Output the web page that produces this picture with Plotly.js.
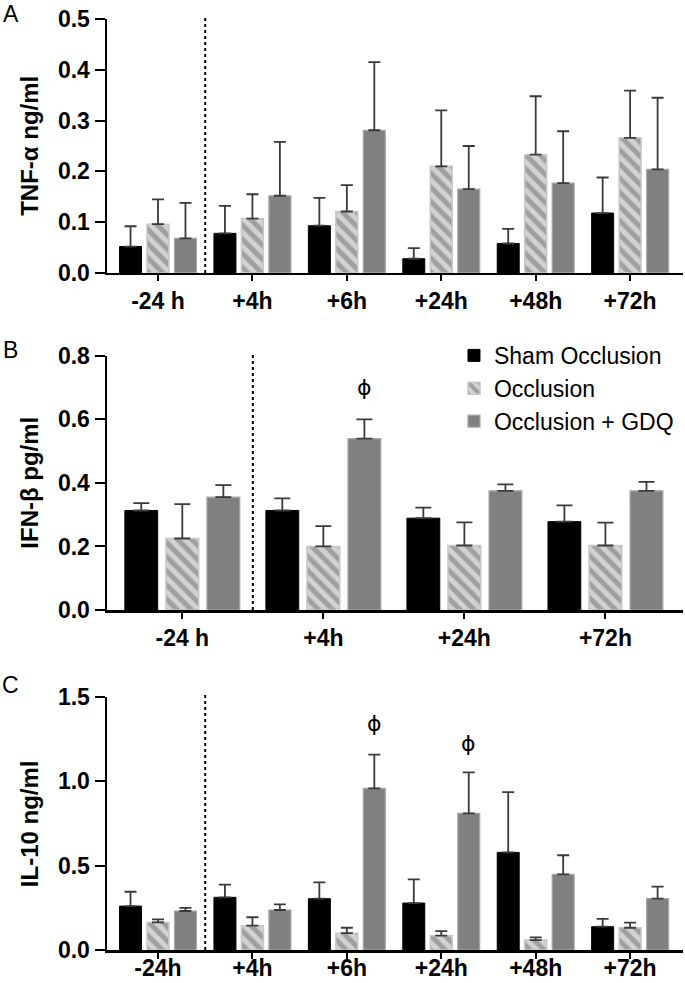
<!DOCTYPE html>
<html>
<head>
<meta charset="utf-8">
<script src="https://cdn.plot.ly/plotly-3.0.1.min.js"></script>
<style>html,body{margin:0;padding:0;background:#fff;}#chart{width:685px;height:983px;}</style>
</head>
<body>
<div id="chart"></div>
<script>
// ---------- data ----------
const seriesNames = ['Sham Occlusion', 'Occlusion', 'Occlusion + GDQ'];

// Panel A: TNF-alpha (ng/ml)
const catsA = ['-24 h', '+4h', '+6h', '+24h', '+48h', '+72h'];
const tnfSham = [0.052, 0.078, 0.093, 0.028, 0.058, 0.118];
const tnfShamErr = [0.040, 0.054, 0.055, 0.021, 0.029, 0.070];
const tnfOcc = [0.096, 0.107, 0.121, 0.210, 0.233, 0.266];
const tnfOccErr = [0.049, 0.048, 0.052, 0.110, 0.115, 0.093];
const tnfGdq = [0.068, 0.152, 0.281, 0.165, 0.177, 0.204];
const tnfGdqErr = [0.070, 0.106, 0.134, 0.085, 0.102, 0.141];

// Panel B: IFN-beta (pg/ml)
const catsB = ['-24 h', '+4h', '+24h', '+72h'];
const ifnSham = [0.313, 0.313, 0.289, 0.278];
const ifnShamErr = [0.023, 0.038, 0.033, 0.051];
const ifnOcc = [0.225, 0.200, 0.203, 0.203];
const ifnOccErr = [0.108, 0.064, 0.073, 0.072];
const ifnGdq = [0.355, 0.539, 0.375, 0.375];
const ifnGdqErr = [0.038, 0.061, 0.020, 0.028];

// Panel C: IL-10 (ng/ml)
const catsC = ['-24h', '+4h', '+6h', '+24h', '+48h', '+72h'];
const il10Sham = [0.260, 0.312, 0.304, 0.278, 0.578, 0.138];
const il10ShamErr = [0.085, 0.075, 0.096, 0.140, 0.357, 0.047];
const il10Occ = [0.164, 0.144, 0.100, 0.085, 0.059, 0.132];
const il10OccErr = [0.018, 0.050, 0.032, 0.027, 0.016, 0.030];
const il10Gdq = [0.231, 0.237, 0.957, 0.809, 0.448, 0.304];
const il10GdqErr = [0.019, 0.033, 0.200, 0.243, 0.113, 0.071];

// significance markers (phi) over Occlusion + GDQ bars
const phiB_cats = ['+4h'];
const phiB_y = [0.70];
const phiC_cats = ['+6h', '+24h'];
const phiC_y = [1.342, 1.224];

// ---------- styles ----------
const FONT = 'Arial, "Liberation Sans", Helvetica, sans-serif';
const BARGAP = 0.127, BARGROUPGAP = 0.2;
const slot = (1 - BARGAP) / 3;

const styles = [
  {color: '#000000', line: {color: '#000000', width: 1}},
  {color: '#cfcfcf', line: {color: '#c8c8c8', width: 1.5},
   pattern: {shape: '\\', bgcolor: '#d2d2d2', fgcolor: '#a0a0a0', size: 10, solidity: 0.5, fillmode: 'replace'}},
  {color: '#808080', line: {color: '#a8a8a8', width: 1.2}}
];

function barTrace(cats, vals, errs, si, xa, ya, showLegend, capw) {
  const marker = {color: styles[si].color, line: styles[si].line};
  if (styles[si].pattern) marker.pattern = styles[si].pattern;
  return {
    type: 'bar', x: cats, y: vals, name: seriesNames[si],
    xaxis: xa, yaxis: ya, marker: marker, showlegend: showLegend,
    error_y: {type: 'data', symmetric: false, array: errs, arrayminus: errs.map(() => 0),
              color: '#3a3a3a', thickness: 1.8, width: capw},
    hoverinfo: 'x+y+name'
  };
}

const data = [
  barTrace(catsA, tnfSham, tnfShamErr, 0, 'x', 'y', true, 6),
  barTrace(catsA, tnfOcc, tnfOccErr, 1, 'x', 'y', true, 6),
  barTrace(catsA, tnfGdq, tnfGdqErr, 2, 'x', 'y', true, 6),
  barTrace(catsB, ifnSham, ifnShamErr, 0, 'x2', 'y2', false, 8),
  barTrace(catsB, ifnOcc, ifnOccErr, 1, 'x2', 'y2', false, 8),
  barTrace(catsB, ifnGdq, ifnGdqErr, 2, 'x2', 'y2', false, 8),
  barTrace(catsC, il10Sham, il10ShamErr, 0, 'x3', 'y3', false, 6),
  barTrace(catsC, il10Occ, il10OccErr, 1, 'x3', 'y3', false, 6),
  barTrace(catsC, il10Gdq, il10GdqErr, 2, 'x3', 'y3', false, 6)
];

const tickFont = {family: FONT, size: 23, color: '#000', weight: 'bold'};
function xAxis(range, domainAnchor, standoff) {
  return {range: range, anchor: domainAnchor, showline: true, linecolor: '#000', linewidth: 2.5,
          ticks: 'outside', ticklen: 6, tickwidth: 2, tickcolor: '#000', tickfont: tickFont,
          ticklabelstandoff: standoff || 0,
          showgrid: false, zeroline: false, fixedrange: true, domain: [0, 1]};
}
function yAxis(range, dtick, domain, anchor) {
  return {range: range, dtick: dtick, tick0: 0, tickformat: '.1f', domain: domain, anchor: anchor,
          showline: true, linecolor: '#000', linewidth: 2.5, ticks: 'outside', ticklen: 10,
          tickwidth: 2, tickcolor: '#000', tickfont: tickFont, showgrid: false, zeroline: false,
          fixedrange: true};
}

const annotations = [];
const yTitles = [['TNF-α ng/ml', 'y'], ['IFN-β pg/ml', 'y2'], ['IL-10 ng/ml', 'y3']];
yTitles.forEach(([t, ya]) => annotations.push({
  text: t, textangle: -90, xref: 'paper', yref: ya + ' domain', x: -0.134, y: 0.5,
  xanchor: 'center', yanchor: 'middle', showarrow: false,
  font: {family: FONT, size: 24, color: '#000', weight: 'bold'}
}));
[['A', 'y'], ['B', 'y2'], ['C', 'y3']].forEach(([t, ya], i) => annotations.push({
  text: t, xref: 'paper', yref: ya + ' domain', x: -0.167, y: [1.02, 1.022, 1.047][i],
  xanchor: 'center', yanchor: 'middle', showarrow: false,
  font: {family: FONT, size: 23, color: '#000'}
}));
function phiAnn(cats, allCats, ys, xa, ya) {
  cats.forEach((c, i) => annotations.push({
    text: 'ϕ', xref: xa, yref: ya, x: allCats.indexOf(c) + slot, y: ys[i],
    xanchor: 'center', yanchor: 'middle', showarrow: false,
    font: {family: '"DejaVu Sans", ' + FONT, size: 22, color: '#000'}
  }));
}
phiAnn(phiB_cats, catsB, phiB_y, 'x2', 'y2');
phiAnn(phiC_cats, catsC, phiC_y, 'x3', 'y3');

const shapes = ['x', 'x2', 'x3'].map((xa, i) => ({
  type: 'line', xref: xa, yref: ['y', 'y2', 'y3'][i] + ' domain',
  x0: 0.5, x1: 0.5, y0: 0, y1: 1.015,
  line: {color: '#000', width: 2, dash: 'dot'}
}));

const layout = {
  width: 685, height: 983,
  margin: {l: 107, r: 2, t: 10, b: 23},
  paper_bgcolor: '#fff', plot_bgcolor: '#fff',
  barmode: 'group', bargap: BARGAP, bargroupgap: BARGROUPGAP,
  font: {family: FONT, color: '#000'},
  xaxis: xAxis([-0.54, 5.56], 'y'),
  yaxis: yAxis([0, 0.5], 0.1, [0.7232, 0.9905], 'x'),
  xaxis2: xAxis([-0.534, 3.55], 'y2'),
  yaxis2: yAxis([0, 0.8], 0.2, [0.3684, 0.6361], 'x2'),
  xaxis3: xAxis([-0.54, 5.56], 'y3', -10),
  yaxis3: yAxis([0, 1.5], 0.5, [0.0105, 0.2772], 'x3'),
  showlegend: true,
  legend: {x: 0.6024, y: 0.659, xanchor: 'left', yanchor: 'top', bgcolor: 'rgba(0,0,0,0)',
           font: {family: FONT, size: 23, color: '#000'}, traceorder: 'normal'},
  annotations: annotations,
  shapes: shapes
};

Plotly.newPlot('chart', data, layout, {displayModeBar: false, staticPlot: true});
</script>
</body>
</html>
